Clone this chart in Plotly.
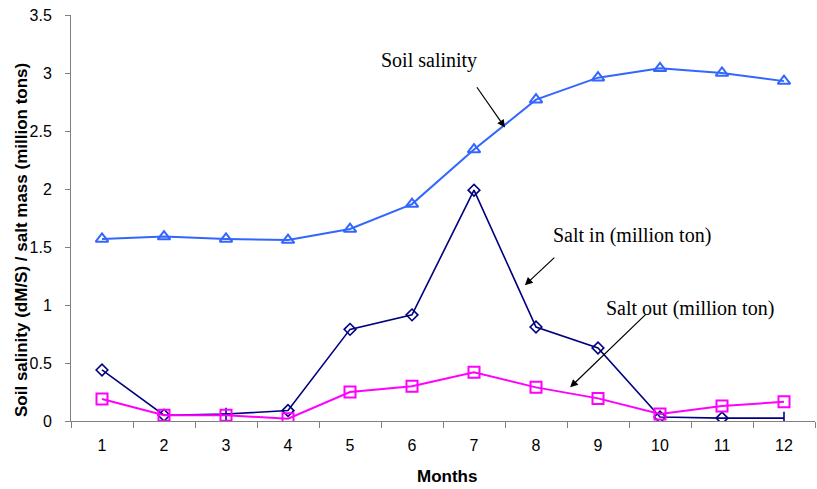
import plotly.graph_objects as go

months = list(range(1, 13))
soil_salinity = [1.57, 1.59, 1.57, 1.56, 1.655, 1.87, 2.34, 2.77, 2.96, 3.04, 3.00, 2.93]
salt_in = [0.44, 0.05, 0.06, 0.09, 0.79, 0.915, 1.99, 0.81, 0.63, 0.035, 0.025, 0.025]
salt_out = [0.19, 0.05, 0.05, 0.02, 0.25, 0.30, 0.42, 0.29, 0.195, 0.06, 0.13, 0.165]
y_ticks = [0, 0.5, 1, 1.5, 2, 2.5, 3, 3.5]
y_tick_text = ["0", "0.5", "1", "1.5", "2", "2.5", "3", "3.5"]

salt_in_symbols = ["diamond-open"] * 12
salt_in_symbols[2] = "cross-thin-open"
salt_in_symbols[11] = "line-ns-open"

fig = go.Figure()
fig.add_trace(go.Scatter(
    x=months, y=soil_salinity, mode="lines+markers", name="Soil salinity",
    line=dict(color="#3366FF", width=2),
    marker=dict(symbol="triangle-up-open", size=11, color="#3366FF", line=dict(width=2, color="#3366FF")),
))
fig.add_trace(go.Scatter(
    x=months, y=salt_in, mode="lines+markers", name="Salt in (million ton)",
    line=dict(color="#000080", width=1.6),
    marker=dict(symbol=salt_in_symbols, size=9, color="#000080", line=dict(width=1.6, color="#000080")),
))
fig.add_trace(go.Scatter(
    x=months, y=salt_out, mode="lines+markers", name="Salt out (million ton)",
    line=dict(color="#FF00FF", width=2),
    marker=dict(symbol="square-open", size=11, color="#FF00FF", line=dict(width=2, color="#FF00FF")),
))

ann_font = dict(family="Liberation Serif, Times New Roman, serif", size=20, color="black")
title_font = dict(family="Liberation Sans, Arial, sans-serif", size=17, color="black")
annotations = [
    dict(x=6.27, y=3.11, text="Soil salinity", showarrow=False, font=ann_font),
    dict(x=9.55, y=1.595, text="Salt in (million ton)", showarrow=False, font=ann_font),
    dict(x=10.48, y=0.974, text="Salt out (million ton)", showarrow=False, font=ann_font),
    dict(x=7.5, y=2.53, ax=7.03, ay=2.89, axref="x", ayref="y", text="", showarrow=True,
         arrowhead=2, arrowsize=1.3, arrowwidth=1.2, arrowcolor="black"),
    dict(x=7.82, y=1.17, ax=8.32, ay=1.42, axref="x", ayref="y", text="", showarrow=True,
         arrowhead=2, arrowsize=1.3, arrowwidth=1.2, arrowcolor="black"),
    dict(x=8.55, y=0.29, ax=9.79, ay=0.93, axref="x", ayref="y", text="", showarrow=True,
         arrowhead=2, arrowsize=1.3, arrowwidth=1.2, arrowcolor="black"),
    dict(xref="paper", yref="paper", x=-0.0672, y=0.4458, xanchor="center", yanchor="middle",
         textangle=-90, showarrow=False, font=title_font,
         text="<b>Soil salinity (dM/S) / salt mass (million tons)</b>"),
    dict(xref="paper", yref="paper", x=0.505, y=-0.1355, xanchor="center", yanchor="middle",
         showarrow=False, font=title_font, text="<b>Months</b>"),
]

axis_font = dict(family="Liberation Sans, Arial, sans-serif", size=16, color="black")
fig.update_layout(
    width=817, height=489,
    margin=dict(l=71, r=2, t=15, b=68),
    paper_bgcolor="white", plot_bgcolor="white",
    showlegend=False,
    annotations=annotations,
    font=axis_font,
    xaxis=dict(
        range=[0.5, 12.5], tickmode="array", tickvals=months, ticktext=[str(m) for m in months],
        ticks="", showgrid=False, zeroline=False, showline=True, linecolor="#808080", linewidth=1,
        minor=dict(ticks="outside", tick0=0.5, dtick=1, ticklen=6, tickcolor="#808080", showgrid=False),
        tickfont=axis_font, ticklabelstandoff=10,
    ),
    yaxis=dict(
        range=[0, 3.5], tickmode="array", tickvals=y_ticks, ticktext=y_tick_text,
        ticks="outside", ticklen=5, tickcolor="#808080", showgrid=False, zeroline=False,
        showline=True, linecolor="#808080", linewidth=1, tickfont=axis_font, ticklabelstandoff=10,
    ),
)

fig.write_html("out.html", config={"displayModeBar": False},
               post_script="document.body.style.margin='0';document.body.style.padding='0';")
